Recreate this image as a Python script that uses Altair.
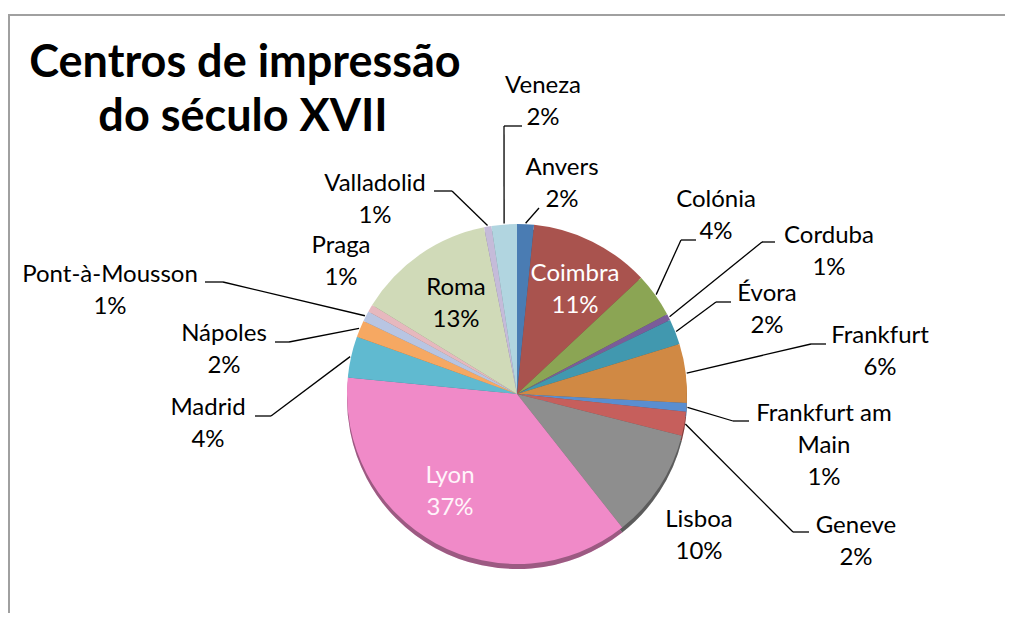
import altair as alt
import pandas as pd

# ---------------- data ----------------
NAMES = ["Anvers", "Coimbra", "Colónia", "Corduba", "Évora", "Frankfurt",
         "Frankfurt am Main", "Geneve", "Lisboa", "Lyon", "Madrid", "Nápoles",
         "Pont-à-Mousson", "Praga", "Roma", "Valladolid", "Veneza"]
VALUES = [1.6, 11.4, 4.2, 0.6, 2.4, 5.6, 0.8, 2.3, 10.4, 37.1, 3.9, 1.6,
          1.0, 0.7, 13.1, 0.7, 2.4]
COLORS = ["#4A7CB3", "#A9534E", "#8BA554", "#7A5C9A", "#4198AF", "#D08944",
          "#5A8ED0", "#C65F5C", "#8E8E8E", "#F08AC8", "#60BAD0", "#F6A862",
          "#B8C5E2", "#E6B8BE", "#D0DAB8", "#C5BBD9", "#B1D5E0"]
TITLE_LINES = ["Centros de impressão", "do século XVII"]

# ---------------- layout (pixels in plot area) ----------------
W, H = 997, 605
CX, CY, R = 509, 386, 170
FONT = "Lato"
LABEL_TEXT = ["Anvers", "Coimbra", "Colónia", "Corduba", "Évora", "Frankfurt",
              "Frankfurt am|Main", "Geneve", "Lisboa", "Lyon", "Madrid", "Nápoles",
              "Pont-à-Mousson", "Praga", "Roma", "Valladolid", "Veneza"]
LABEL_X = [554, 567, 708, 821, 759, 872, 816, 848, 691, 442, 200, 216, 102, 333, 448, 367, 535]
LABEL_Y = [160, 266, 192, 228, 286, 328, 406, 518, 512, 468, 400, 326, 267, 238, 280, 176, 78]
ELBOW_X = [531, None, 673, 754, 708, 803, 725, 785, None, None, 263, 281, 215, None, None, 444, 496]
ELBOW_Y = [200, None, 232, 234, 294, 336, 413, 524, None, None, 408, 334, 274, None, None, 183, 118]
END_X = [531, None, 688, 767, 723, 818, 741, 801, None, None, 247, 267, 197, None, None, 426, 514]
TEXT_COLOR = ["#000000", "#FFFFFF", "#000000", "#000000", "#000000", "#000000",
              "#000000", "#000000", "#000000", "#FFF4FA", "#000000", "#000000",
              "#000000", "#000000", "#000000", "#000000", "#000000"]

df = pd.DataFrame({
    "idx": list(range(len(NAMES))),
    "name": NAMES,
    "value": VALUES,
    "label_text": LABEL_TEXT,
    "lx": LABEL_X,
    "ly": LABEL_Y,
    "bx": ELBOW_X,
    "by": ELBOW_Y,
    "endx": END_X,
    "tcolor": TEXT_COLOR,
})

base = alt.Chart(df)
color = alt.Color("name:N", scale=alt.Scale(domain=NAMES, range=COLORS), legend=None)

# 3D-ish rim below the pie
rim = base.mark_arc(radius=R).encode(
    theta=alt.Theta("value:Q", stack=True),
    order=alt.Order("idx:Q"),
    color=color,
    x=alt.value(CX), y=alt.value(CY + 5),
)
rim_dark = base.mark_arc(radius=R, color="#000000", opacity=0.35).encode(
    theta=alt.Theta("value:Q", stack=True),
    order=alt.Order("idx:Q"),
    x=alt.value(CX), y=alt.value(CY + 5),
)
pie = base.mark_arc(radius=R).encode(
    theta=alt.Theta("value:Q", stack=True),
    order=alt.Order("idx:Q"),
    color=color,
    x=alt.value(CX), y=alt.value(CY),
)

geo = base.transform_joinaggregate(total="sum(value)").transform_window(
    cum="sum(value)", sort=[alt.SortField("idx")], frame=[None, 0]
).transform_calculate(
    mid="(datum.cum - datum.value/2) / datum.total * 2 * PI",
).transform_calculate(
    ex=f"{CX} + {R + 1} * sin(datum.mid)",
    ey=f"{CY} - {R + 1} * cos(datum.mid)",
    pct="format(round(datum.value / datum.total * 100), 'd') + '%'",
)

leader1 = geo.transform_filter("isValid(datum.bx)").mark_rule(
    color="#000000", strokeWidth=1.3
).encode(
    x=alt.X("ex:Q", scale=None, axis=None),
    y=alt.Y("ey:Q", scale=None, axis=None),
    x2="bx:Q", y2="by:Q",
)
leader2 = geo.transform_filter("isValid(datum.bx)").mark_rule(
    color="#000000", strokeWidth=1.3
).encode(
    x=alt.X("bx:Q", scale=None, axis=None),
    y=alt.Y("by:Q", scale=None, axis=None),
    x2="endx:Q",
)

labels = geo.transform_calculate(
    full="datum.label_text + '|' + datum.pct"
).mark_text(
    font=FONT, fontSize=24, lineBreak="|", lineHeight=32,
    align="center", baseline="middle"
).encode(
    x=alt.X("lx:Q", scale=None, axis=None),
    y=alt.Y("ly:Q", scale=None, axis=None),
    text="full:N",
    color=alt.Color("tcolor:N", scale=None),
)

one = pd.DataFrame({"k": [0]})
title1 = alt.Chart(one).mark_text(
    font=FONT, fontSize=45, fontWeight="bold", align="center",
    baseline="alphabetic", color="#000000"
).encode(x=alt.value(237), y=alt.value(69), text=alt.value(TITLE_LINES[0]))
title2 = alt.Chart(one).mark_text(
    font=FONT, fontSize=45, fontWeight="bold", align="center",
    baseline="alphabetic", color="#000000"
).encode(x=alt.value(235), y=alt.value(123), text=alt.value(TITLE_LINES[1]))

border_top = alt.Chart(one).mark_rule(color="#A0A0A0", strokeWidth=2).encode(
    x=alt.value(0), x2=alt.value(W), y=alt.value(7)
)
border_left = alt.Chart(one).mark_rule(color="#A0A0A0", strokeWidth=2).encode(
    x=alt.value(1), y=alt.value(7), y2=alt.value(H)
)

chart = alt.layer(
    border_top, border_left, rim, rim_dark, pie, leader1, leader2, labels, title1, title2
).properties(
    width=W, height=H, padding=0, autosize=alt.AutoSizeParams(type="none"),
    background="#FFFFFF"
).configure_view(stroke=None)

chart.save("out.html", embed_options={"renderer": "svg", "actions": False})
